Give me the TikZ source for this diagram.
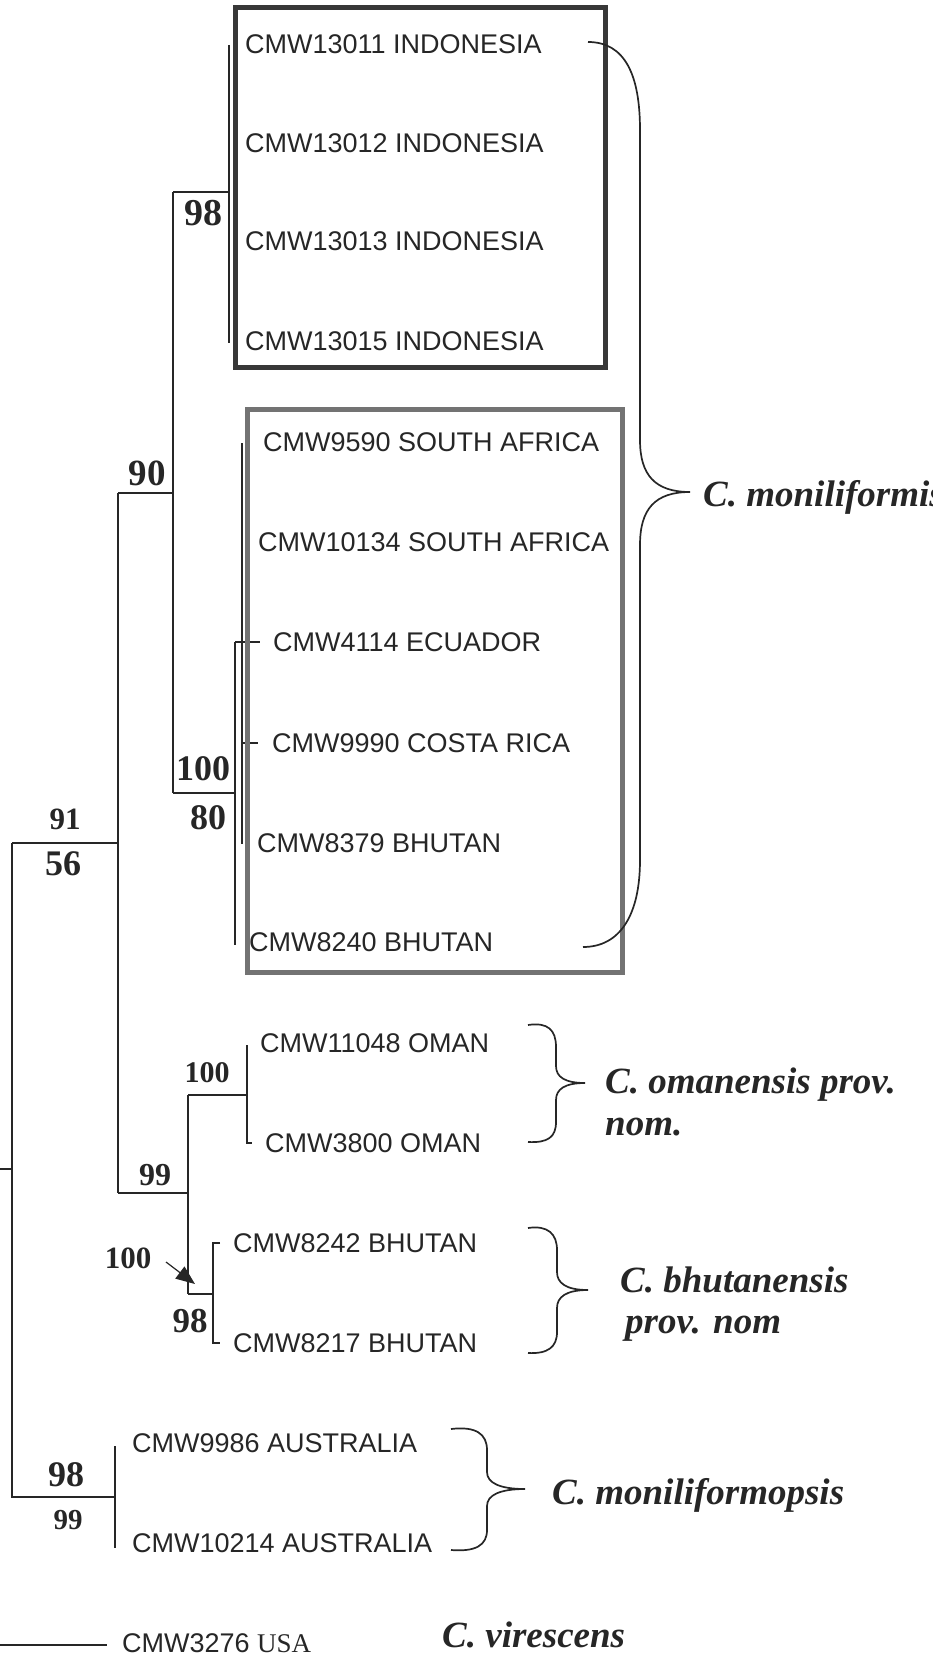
\documentclass[tikz,border=0pt]{standalone}
\usepackage{fontspec}
\setmainfont{Liberation Serif}
\newfontfamily\labfont{Liberation Sans}
\usetikzlibrary{arrows.meta}
\begin{document}
\begin{tikzpicture}[x=1pt,y=-1pt,
  tree/.style={line width=1.4pt, draw=black!85},
  leaf/.style={anchor=west, inner sep=0pt, font={\labfont\fontsize{27}{27}\selectfont}, text=black!85},
  boot/.style={inner sep=0pt, font={\bfseries\fontsize{#1}{#1}\selectfont}, text=black!85},
  species/.style={anchor=base west, inner sep=0pt, font={\bfseries\itshape\fontsize{37}{41}\selectfont}, text=black!85},
  brace/.style={line width=1.7pt, draw=black!85},
  boxA/.style={draw=black!78, line width=5pt},
  boxB/.style={draw=black!55, line width=5pt}]
\useasboundingbox (0,0) rectangle (932,1659);
\clip (0,0) rectangle (932,1659);

% internal node coordinates
\coordinate (iT) at (229,45);
\coordinate (iB) at (229,343);
\coordinate (n98) at (229,192);
\coordinate (n90) at (173,493);
\coordinate (n90t) at (173,192);
\coordinate (n90b) at (173,793);
\coordinate (n100) at (235,793);
\coordinate (oT) at (235,642);
\coordinate (oB) at (235,945);
\coordinate (inT) at (242,443);
\coordinate (inB) at (242,844);
\coordinate (t4114) at (260,642);
\coordinate (t9990) at (258,743);
\coordinate (in9990) at (242,743);
\coordinate (n91) at (118,843);
\coordinate (n91t) at (118,493);
\coordinate (n91b) at (118,1193);
\coordinate (rootT) at (12,843);
\coordinate (rootM) at (12,1169);
\coordinate (rootB) at (12,1497);
\coordinate (rootL) at (0,1169);
\coordinate (n99) at (188,1193);
\coordinate (n99t) at (188,1095);
\coordinate (n99b) at (188,1294);
\coordinate (omV) at (247,1095);
\coordinate (omT) at (247,1045);
\coordinate (omB) at (247,1143);
\coordinate (omBt) at (252,1143);
\coordinate (bhV) at (213,1294);
\coordinate (bhT) at (213,1243);
\coordinate (bhB) at (213,1343);
\coordinate (bhTt) at (220,1243);
\coordinate (bhBt) at (220,1343);
\coordinate (auV) at (115,1497);
\coordinate (auT) at (115,1446);
\coordinate (auB) at (115,1548);
\coordinate (usL) at (0,1645);
\coordinate (usR) at (107,1645);

% tree
\draw[tree] (iT) -- (iB);
\draw[tree] (n90t) -- (n98);
\draw[tree] (n90t) -- (n90b);
\draw[tree] (n91t) -- (n90);
\draw[tree] (n90b) -- (n100);
\draw[tree] (oT) -- (oB);
\draw[tree] (oT) -- (t4114);
\draw[tree] (inT) -- (inB);
\draw[tree] (in9990) -- (t9990);
\draw[tree] (n91t) -- (n91b);
\draw[tree] (rootT) -- (n91);
\draw[tree] (n91b) -- (n99);
\draw[tree] (n99t) -- (n99b);
\draw[tree] (n99t) -- (omV);
\draw[tree] (omT) -- (omB) -- (omBt);
\draw[tree] (n99b) -- (bhV);
\draw[tree] (bhTt) -- (bhT) -- (bhB) -- (bhBt);
\draw[tree] (rootL) -- (rootM);
\draw[tree] (rootT) -- (rootB) -- (auV);
\draw[tree] (auT) -- (auB);
\draw[tree] (usL) -- (usR);

% boxes
\draw[boxA] (235,8) rectangle (605,367);
\draw[boxB] (247.5,409) rectangle (622,972);

% leaves
\node[leaf] (l1) at (245,44) {CMW13011 INDONESIA};
\node[leaf] (l2) at (245,143) {CMW13012 INDONESIA};
\node[leaf] (l3) at (245,241) {CMW13013 INDONESIA};
\node[leaf] (l4) at (245,341) {CMW13015 INDONESIA};
\node[leaf] (l5) at (263,442) {CMW9590 SOUTH AFRICA};
\node[leaf] (l6) at (258,542) {CMW10134 SOUTH AFRICA};
\node[leaf] (l7) at (273,642) {CMW4114 ECUADOR};
\node[leaf] (l8) at (272,743) {CMW9990 COSTA RICA};
\node[leaf] (l9) at (257,843) {CMW8379 BHUTAN};
\node[leaf] (l10) at (249,942) {CMW8240 BHUTAN};
\node[leaf] (l11) at (260,1043) {CMW11048 OMAN};
\node[leaf] (l12) at (265,1143) {CMW3800 OMAN};
\node[leaf] (l13) at (233,1243) {CMW8242 BHUTAN};
\node[leaf] (l14) at (233,1343) {CMW8217 BHUTAN};
\node[leaf] (l15) at (132,1443) {CMW9986 AUSTRALIA};
\node[leaf] (l16) at (132,1543) {CMW10214 AUSTRALIA};
\node[leaf] (l17) at (122,1643) {CMW3276 {\rmfamily USA}};

% bootstrap values
\node[boot=38] (b98a) at (203,213) {98};
\node[boot=37] (b90) at (147,473) {90};
\node[boot=31] (b91) at (65,819) {91};
\node[boot=36] (b56) at (63,864) {56};
\node[boot=36] (b100a) at (203,769) {100};
\node[boot=36] (b80) at (208,818) {80};
\node[boot=30] (b100b) at (207,1073) {100};
\node[boot=32] (b99a) at (155,1175) {99};
\node[boot=31] (b100c) at (128,1258) {100};
\node[boot=35] (b98b) at (190,1321) {98};
\node[boot=36] (b98c) at (66,1475) {98};
\node[boot=29] (b99b) at (68,1520) {99};

% arrow
\coordinate (arS) at (166,1262);
\coordinate (arT) at (195,1284);
\draw[line width=1.2pt, draw=black!85, -{Triangle[length=19pt,width=15pt]}] (arS) -- (arT);

% braces
\draw[brace] (588,42) .. controls (625,42) and (640,75) .. (640,130) -- (640,440)
  .. controls (640,475) and (655,492) .. (690,492)
  .. controls (655,492) and (640,509) .. (640,545) -- (640,860)
  .. controls (640,915) and (620,947) .. (583,947);
\draw[brace] (528,1025) .. controls (548,1022) and (556,1030) .. (556,1047) -- (556,1066)
  .. controls (556,1077) and (565,1083) .. (585,1083)
  .. controls (565,1083) and (556,1089) .. (556,1100) -- (556,1122)
  .. controls (556,1137) and (548,1143) .. (528,1142);
\draw[brace] (528,1228) .. controls (548,1225) and (557,1234) .. (557,1250) -- (557,1272)
  .. controls (557,1283) and (566,1290) .. (588,1290)
  .. controls (566,1290) and (557,1297) .. (557,1308) -- (557,1332)
  .. controls (557,1347) and (548,1354) .. (528,1353);
\draw[brace] (451,1429) .. controls (476,1426) and (487,1434) .. (487,1450) -- (487,1472)
  .. controls (487,1483) and (500,1489) .. (525,1489)
  .. controls (500,1489) and (487,1495) .. (487,1506) -- (487,1530)
  .. controls (487,1545) and (476,1552) .. (451,1550);

% species
\node[species] (sMon) at (703,506) {C. moniliformis};
\node[species] (sOm1) at (605,1093) {C. omanensis prov.};
\node[species] (sOm2) at (605,1135) {nom.};
\node[species] (sBh1) at (620,1292) {C. bhutanensis};
\node[species] (sBh2) at (625,1333) {prov. nom};
\node[species] (sMop) at (552,1504) {C. moniliformopsis};
\node[species] (sVir) at (442,1647) {C. virescens};
\end{tikzpicture}
\end{document}
